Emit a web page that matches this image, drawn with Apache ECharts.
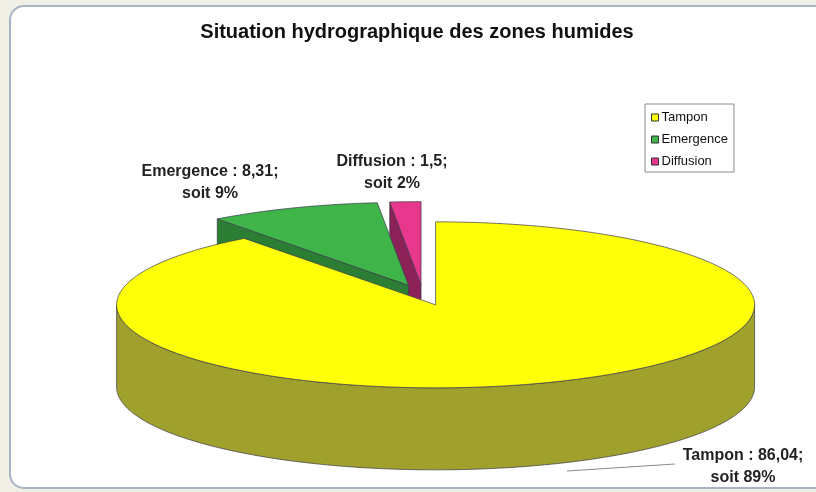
<!DOCTYPE html>
<html>
<head>
<meta charset="utf-8">
<script src="https://cdn.jsdelivr.net/npm/echarts@6/dist/echarts.min.js"></script>
<style>
html,body{margin:0;padding:0;background:#efefe6;}
#chart{width:816px;height:492px;}
</style>
</head>
<body>
<div id="chart"></div>
<script>
// ---- data ----
const categories = ['Tampon', 'Emergence', 'Diffusion'];
const values = [86.04, 8.31, 1.5];
const percentLabels = [89, 9, 2];
const chartTitle = 'Situation hydrographique des zones humides';

// ---- styles ----
const topColors = ['#FFFF0A', '#3FB449', '#E8388E'];
const sideColors = ['#A0A02C', '#2B7E34', '#8C2258'];
const edgeColor = '#3a3a4a';

// ---- layout (relative to the chart size) ----
const geo = { cx: 423 / 816, cy: 295 / 492, rx: 319 / 816, ry: 83 / 492, depth: 82 / 492, explode: 0.125 };
const labelPos = [[743, 467], [210, 183], [392, 173]];

const total = values.reduce((a, b) => a + b, 0);
const rad = d => d * Math.PI / 180;

function renderSlice(params, api) {
  const i = params.seriesIndex;
  const W = api.getWidth(), H = api.getHeight();
  const cx = geo.cx * W, cy = geo.cy * H, rx = geo.rx * W, ry = geo.ry * H, dep = geo.depth * H;
  let before = 0;
  for (let k = 0; k < i; k++) before += values[k];
  const v = api.value(0);
  const t0 = before / total * 360;
  const t1 = (before + v) / total * 360;
  const tm = (t0 + t1) / 2;
  const ax = cx + geo.explode * rx * Math.sin(rad(tm));
  const ay = cy - geo.explode * ry * Math.cos(rad(tm));
  const rim = (t, dy) => [ax + rx * Math.sin(rad(t)), ay - ry * Math.cos(rad(t)) + (dy || 0)];
  const arc = (a, b, dy) => {
    const pts = [];
    const n = Math.max(2, Math.ceil(Math.abs(b - a)));
    for (let s = 0; s <= n; s++) pts.push(rim(a + (b - a) * s / n, dy));
    return pts;
  };
  const children = [];
  const sideStyle = { fill: sideColors[i], stroke: edgeColor, lineWidth: 0.7 };
  // outer wall (front half only)
  const w0 = Math.max(t0, 90), w1 = Math.min(t1, 270);
  if (w1 > w0) {
    const pts = arc(w0, w1, 0).concat(arc(w0, w1, dep).reverse());
    children.push({ type: 'polygon', z2: 1, shape: { points: pts }, style: sideStyle });
  }
  // start cut face
  if (Math.sin(rad(t0)) < -1e-6) {
    const p = rim(t0, 0), q = rim(t0, dep);
    children.push({ type: 'polygon', z2: 1, shape: { points: [[ax, ay], p, q, [ax, ay + dep]] }, style: sideStyle });
  }
  // end cut face
  if (Math.sin(rad(t1)) > 1e-6) {
    const p = rim(t1, 0), q = rim(t1, dep);
    children.push({ type: 'polygon', z2: 1, shape: { points: [[ax, ay], p, q, [ax, ay + dep]] }, style: sideStyle });
  }
  // top face
  const top = [[ax, ay]].concat(arc(t0, t1, 0));
  children.push({ type: 'polygon', z2: 2, shape: { points: top }, style: { fill: topColors[i], stroke: edgeColor, lineWidth: 0.7 } });
  // label
  const txt = categories[i] + ' : ' + String(v).replace('.', ',') + ';\nsoit ' + percentLabels[i] + '%';
  children.push({
    type: 'text', z2: 3,
    x: labelPos[i][0] / 816 * W, y: labelPos[i][1] / 492 * H,
    style: { text: txt, fill: '#222', font: 'bold 16px "Liberation Sans", Arial, sans-serif',
      align: 'center', verticalAlign: 'middle', textAlign: 'center', textVerticalAlign: 'middle', lineHeight: 22 }
  });
  return { type: 'group', children };
}

const chart = echarts.init(document.getElementById('chart'), null, { renderer: 'canvas' });
const zOrder = [3, 2, 1];
chart.setOption({
  backgroundColor: '#efefe6',
  animation: false,
  legend: {
    data: categories,
    orient: 'vertical',
    left: 645, top: 104,
    padding: [7, 6, 4, 6],
    itemWidth: 7, itemHeight: 7, itemGap: 9,
    icon: 'rect',
    borderColor: '#8a8a8a', borderWidth: 1,
    backgroundColor: '#ffffff',
    itemStyle: { borderColor: '#333', borderWidth: 1 },
    textStyle: { fontSize: 13, color: '#111', fontFamily: '"Liberation Sans", Arial, sans-serif', padding: [0, 0, 0, -2] }
  },
  graphic: [
    { type: 'rect', z: -10, shape: { x: 10, y: 6, width: 830, height: 482, r: 14 },
      style: { fill: '#ffffff', stroke: '#a8b3c4', lineWidth: 2 } },
    { type: 'text', z: 5, x: 417, y: 32,
      style: { text: chartTitle, fill: '#111', font: 'bold 20px "Liberation Sans", Arial, sans-serif',
        align: 'center', verticalAlign: 'middle', textAlign: 'center', textVerticalAlign: 'middle' } },
    { type: 'line', z: 5, shape: { x1: 567, y1: 471, x2: 675, y2: 464 }, style: { stroke: '#8a8a8a', lineWidth: 1 } }
  ],
  series: categories.map((name, i) => ({
    type: 'custom',
    name: name,
    coordinateSystem: 'none',
    z: zOrder[i],
    itemStyle: { color: topColors[i] },
    renderItem: renderSlice,
    data: [[values[i]]]
  }))
});
</script>
</body>
</html>
